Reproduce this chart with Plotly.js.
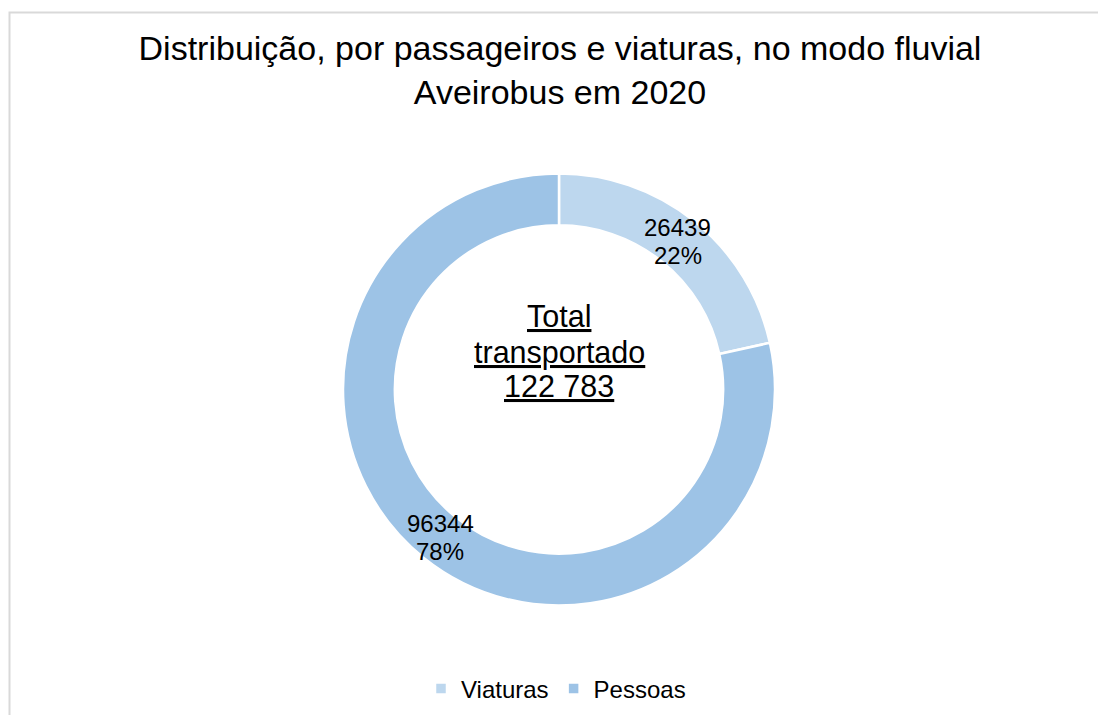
<!DOCTYPE html>
<html>
<head>
<meta charset="utf-8">
<script src="https://cdn.plot.ly/plotly-3.0.1.min.js"></script>
<style>html,body{margin:0;padding:0;background:#fff;}#chart{width:1098px;height:715px;}</style>
</head>
<body>
<div id="chart"></div>
<script>
const categories = ["Viaturas", "Pessoas"];
const values = [26439, 96344];
const colors = ["#BDD7EE", "#9DC3E6"];
const titleText = "Distribuição, por passageiros e viaturas, no modo fluvial<br>Aveirobus em 2020";
const centerLines = ["Total", "transportado"];

const total = values.reduce((a, b) => a + b, 0);
const totalStr = String(total).replace(/\B(?=(\d{3})+(?!\d))/g, " ");
const FONT = "Liberation Sans, Arial, sans-serif";

const W = 1098, H = 715;
const cx = 559, cy = 389.5, R = 216, rLab = 190;

const trace = {
  type: "pie",
  labels: categories,
  values: values,
  hole: 0.76,
  sort: false,
  direction: "clockwise",
  rotation: 0,
  marker: { colors: colors, line: { color: "#ffffff", width: 2.5 } },
  textinfo: "none",
  domain: { x: [(cx - R) / W, (cx + R) / W], y: [(H - cy - R) / H, (H - cy + R) / H] },
  hoverinfo: "label+value+percent"
};

const annotations = [];
// slice labels at mid-angle of each slice (clockwise from 12 o'clock)
let cum = 0;
values.forEach((v, i) => {
  const frac = v / total;
  const th = 2 * Math.PI * (cum + frac / 2);
  cum += frac;
  const px = cx + rLab * Math.sin(th);
  const py = cy - rLab * Math.cos(th);
  const lines = [String(v), Math.round(frac * 100) + "%"];
  lines.forEach((t, k) => {
    annotations.push({
      text: t, x: px / W, y: 1 - (py + (k === 0 ? -14 : 14)) / H,
      xref: "paper", yref: "paper", xanchor: "center", yanchor: "middle",
      showarrow: false, font: { family: FONT, size: 24, color: "#000000" }
    });
  });
});
// center total text
const cLines = centerLines.concat([totalStr]);
const cY = [316, 352, 386];
cLines.forEach((t, k) => {
  annotations.push({
    text: "<u>" + t + "</u>", x: cx / W, y: 1 - cY[k] / H,
    xref: "paper", yref: "paper", xanchor: "center", yanchor: "middle",
    showarrow: false, font: { family: FONT, size: 30.5, color: "#000000" }
  });
});

const layout = {
  width: W, height: H,
  margin: { l: 0, r: 0, t: 0, b: 0 },
  paper_bgcolor: "#ffffff",
  font: { family: FONT, color: "#000000" },
  title: {
    text: titleText,
    font: { family: FONT, size: 34, color: "#000000" },
    x: 560 / W, xanchor: "center",
    y: 1 - 60 / H, yanchor: "top",
    xref: "paper", yref: "container"
  },
  showlegend: true,
  legend: {
    orientation: "h",
    x: 556 / W, xanchor: "center",
    y: (H - 689) / H, yanchor: "middle",
    font: { family: FONT, size: 24, color: "#000000" },
    traceorder: "normal"
  },
  annotations: annotations,
  shapes: [{
    type: "rect", xref: "paper", yref: "paper",
    x0: 9.5 / W, x1: 1.02, y0: -0.02, y1: 1 - 12.5 / H,
    line: { color: "#D9D9D9", width: 2 }, fillcolor: "rgba(0,0,0,0)"
  }]
};

Plotly.newPlot("chart", [trace], layout, { displayModeBar: false, staticPlot: true });
</script>
</body>
</html>
